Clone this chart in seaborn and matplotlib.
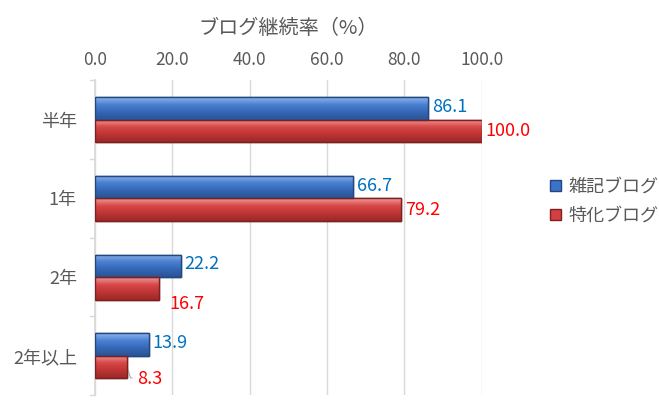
import numpy as np
import pandas as pd
import seaborn as sns
from matplotlib import pyplot as plt
from matplotlib.patches import Patch
from matplotlib.colors import LinearSegmentedColormap

categories = ["半年", "1年", "2年", "2年以上"]
series = ["雑記ブログ", "特化ブログ"]
zakki = [86.1, 66.7, 22.2, 13.9]
tokka = [100.0, 79.2, 16.7, 8.3]
ticks = [0, 20, 40, 60, 80, 100]

sns.set_theme(style="white")
plt.rcParams['font.family'] = ['Noto Sans CJK JP', 'DejaVu Sans']

df = pd.DataFrame({
    "cat": categories * 2,
    "val": zakki + tokka,
    "s": [series[0]] * 4 + [series[1]] * 4,
})

fig = plt.figure(figsize=(6.59, 4.07), dpi=100)
ax = fig.add_axes([0.144, 0.029, 0.587, 0.774])

colors = ["#3C73C8", "#D43F3F"]
edges = ["#23477F", "#7E2020"]
# top -> bottom gradient per series
grads = [["#8DB4EA", "#4A80D2", "#3566B5", "#2A5395"],
         ["#F09A9A", "#D84848", "#BE3434", "#9C2828"]]

sns.barplot(data=df, y="cat", x="val", hue="s", orient="h", palette=colors,
            width=0.57, ax=ax, legend=False, saturation=1)

for i, cont in enumerate(ax.containers):
    cmap = LinearSegmentedColormap.from_list("g%d" % i, grads[i])
    for bar in cont:
        bar.set_edgecolor(edges[i])
        bar.set_linewidth(1.0)
        x0, y0 = bar.get_x(), bar.get_y()
        w, h = bar.get_width(), bar.get_height()
        im = ax.imshow(np.linspace(0, 1, 64).reshape(-1, 1), cmap=cmap,
                       aspect="auto", extent=(x0, x0 + w, y0 + h, y0),
                       zorder=2.5, interpolation="bicubic")
        im.set_clip_path(bar)
        ax.add_patch(plt.Rectangle((x0, y0), w, h, fill=False,
                                   edgecolor=edges[i], lw=1.0, zorder=2.6))

# data labels
label_cols = ["#0070C0", "#FF0000"]
dy_red = [0, 0, 0.2, 0.15]
dx_red = [0, 0, 1.5, 1.5]
for i, cont in enumerate(ax.containers):
    for j, bar in enumerate(cont):
        yc = bar.get_y() + bar.get_height() / 2
        v = bar.get_width()
        dy = dy_red[j] if i == 1 else -0.02
        dx = dx_red[j] if i == 1 else 0
        ax.text(v + 1.0 + dx, yc + dy, f"{v:.1f}", color=label_cols[i],
                fontsize=13, va="center", ha="left", zorder=4)
ax.plot([8.3, 9.2, 9.6], [3.14, 3.28, 3.28], color="#A6A6A6", lw=0.8)

ax.set_xlim(0, 100)
ax.set_ylim(3.5, -0.5)
ax.set_xticks(ticks)
ax.set_xticklabels([f"{t:.1f}" for t in ticks], color="#595959", fontsize=12.5)
ax.xaxis.tick_top()
ax.tick_params(axis="x", length=0, pad=8)
ax.grid(axis="x", color="#D9D9D9", lw=1)
ax.set_axisbelow(True)

ax.set_yticks(range(4))
ax.set_yticklabels(categories, color="#595959", fontsize=13)
ax.tick_params(axis="y", length=0, pad=13)
ax.set_ylabel("")
ax.set_xlabel("")
for b in np.arange(-0.5, 4, 1):
    ax.plot([-1.2, 0], [b, b], color="#D9D9D9", lw=1, clip_on=False)

for side in ["top", "right", "bottom"]:
    ax.spines[side].set_visible(False)
ax.spines["left"].set_color("#D9D9D9")

fig.text(0.437, 0.931, "ブログ継続率（%）", ha="center", va="center",
         color="#595959", fontsize=14.5)

# legend
handles = [Patch(facecolor=colors[k], edgecolor=edges[k], label=series[k]) for k in range(2)]
fig.legend(handles=handles, loc="center left", bbox_to_anchor=(0.81, 0.505),
           frameon=False, fontsize=13, handlelength=0.6, handleheight=0.6,
           handletextpad=0.4, labelspacing=0.6, labelcolor="#595959")

fig.savefig("out.png", dpi=100)
